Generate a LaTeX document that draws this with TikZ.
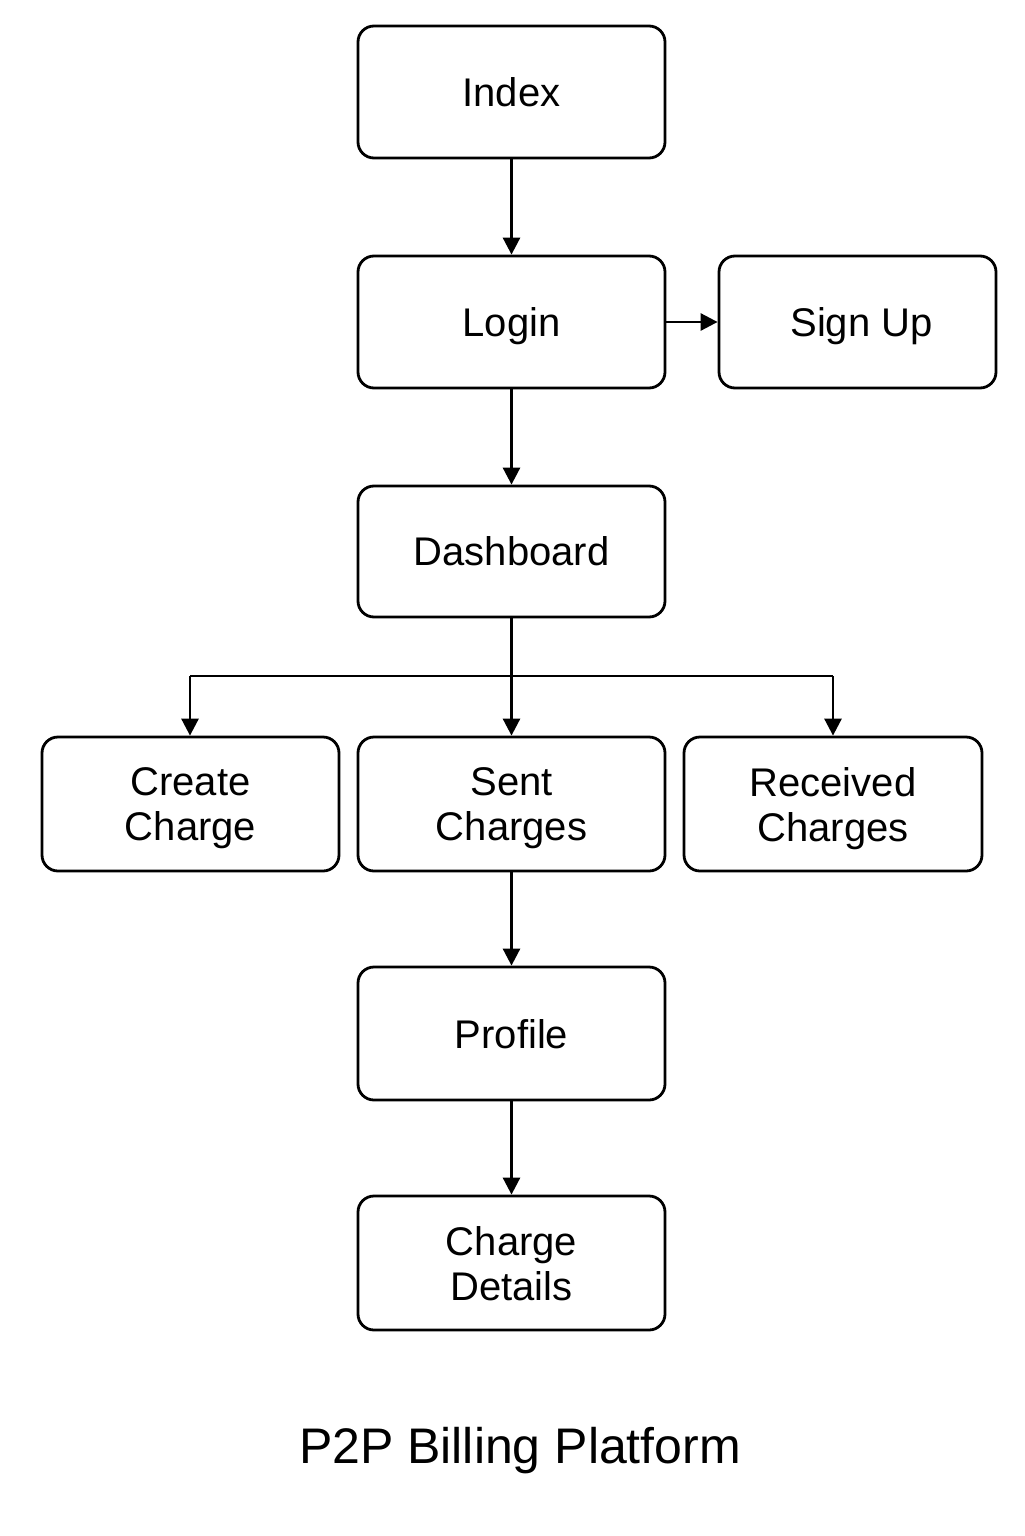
\documentclass[tikz,border=0pt]{standalone}
\usepackage{fontspec}
\setmainfont{Liberation Sans}
\usetikzlibrary{arrows.meta}
\begin{document}
\begin{tikzpicture}[x=0.5pt,y=-0.5pt,
  box/.style={draw,line width=1.4pt,rounded corners=8pt,align=center,
    font=\fontsize{20}{22.5}\selectfont,inner sep=0pt,text depth=0pt},
  wbox/.style={box,minimum width=153.5pt,minimum height=66pt},
  conn/.style={line width=1.4pt,-{Triangle[length=8.5pt,width=8.5pt]}}]
\useasboundingbox (0,0) rectangle (1024,1536);
\node[wbox] (index) at (511.5,92) {Index};
\node[wbox] (login) at (511.5,322) {Login};
\node[box,minimum width=138.5pt,minimum height=66pt] (signup) at (857.5,322) {\hspace*{4pt}Sign Up};
\node[wbox,minimum height=65.5pt] (dash) at (511.5,551.5) {Dashboard};
\node[box,minimum width=148.5pt,minimum height=67pt] (create) at (190.5,804) {Create\\Charge};
\node[wbox,minimum height=67pt] (sent) at (511.5,804) {Sent\\Charges};
\node[box,minimum width=149pt,minimum height=67pt] (recv) at (833,804) {Received\\Charges};
\node[wbox,minimum height=66.5pt] (profile) at (511.5,1033.5) {Profile};
\node[wbox,minimum height=67pt] (details) at (511.5,1263) {Charge\\Details};
\node[font=\fontsize{25}{30}\selectfont] (title) at (520,1451) {P2P Billing Platform};
\coordinate (bl) at (190,676);
\coordinate (br) at (833,676);
\draw[conn] (index) -- (login);
\draw[conn] (login) -- (signup);
\draw[conn] (login) -- (dash);
\draw[conn] (dash) -- (sent);
\draw[line width=1.4pt] (bl) -- (br);
\draw[conn] (bl) -- (bl |- create.north);
\draw[conn] (br) -- (br |- recv.north);
\draw[conn] (sent) -- (profile);
\draw[conn] (profile) -- (details);
\end{tikzpicture}
\end{document}
